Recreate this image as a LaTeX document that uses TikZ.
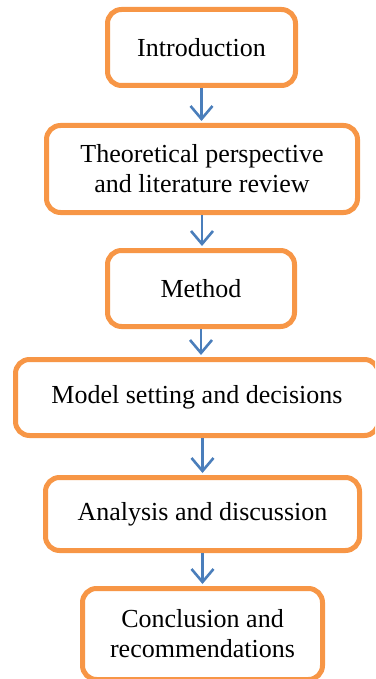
\documentclass[tikz,border=0pt]{standalone}
\usepackage{fontspec}
\setmainfont{Liberation Serif}
\usetikzlibrary{arrows.meta}
\definecolor{boxorange}{HTML}{F79646}
\definecolor{arrowblue}{HTML}{4A7EBB}
\begin{document}
\begin{tikzpicture}[x=1pt,y=-1pt,
  stagebox/.style={draw=boxorange, line width=5pt, rounded corners=14pt, fill=white,
    align=center, inner sep=0pt, font=\fontsize{26}{30}\selectfont},
  flowarrow/.style={draw=arrowblue, line width=2.6pt,
    -{Straight Barb[length=13pt,width=22pt]}, shorten >=2pt}]
\useasboundingbox (0,0) rectangle (375,679);
\clip (0,0) rectangle (375,679);
\node[stagebox, minimum width=188pt, minimum height=76pt] (n1) at (201.5,47.5) {Introduction};
\node[stagebox, minimum width=311pt, minimum height=87pt] (n2) at (202,169) {Theoretical perspective\\and literature review};
\node[stagebox, minimum width=187pt, minimum height=76pt] (n3) at (201,288.5) {Method};
\node[stagebox, minimum width=363pt, minimum height=76pt] (n4) at (197,397.5) {Model setting and decisions};
\node[stagebox, minimum width=314pt, minimum height=73pt] (n5) at (202.5,514) {Analysis and discussion};
\node[stagebox, minimum width=240pt, minimum height=91pt] (n6) at (202.5,634) {Conclusion and\\recommendations};
\draw[flowarrow] (n1.south) -- (n1.south |- n2.north);
\draw[flowarrow] (n2.south) -- (n2.south |- n3.north);
\draw[flowarrow] (n3.south) -- (n3.south |- n4.north);
\draw[flowarrow] (n4.south -| n5.north) -- (n5.north);
\draw[flowarrow] (n5.south) -- (n5.south |- n6.north);
\end{tikzpicture}
\end{document}
